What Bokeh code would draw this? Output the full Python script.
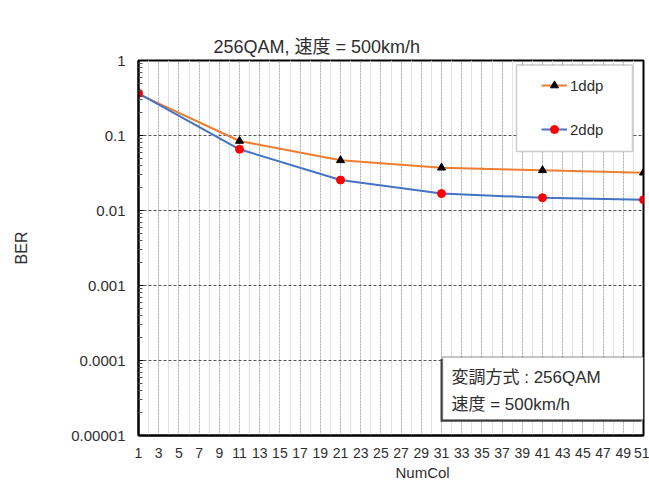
from bokeh.plotting import figure
from bokeh.models import (FixedTicker, CustomJSTickFormatter, Label, BoxAnnotation,
                          Legend, LegendItem, Title)
from bokeh.embed import file_html
from bokeh.resources import INLINE

# ---- data ----
num_col = [1, 11, 21, 31, 41, 51]
ber_1ddp = [0.357, 0.0845, 0.0467, 0.0372, 0.0344, 0.0319]
ber_2ddp = [0.365, 0.0655, 0.0255, 0.0168, 0.0148, 0.0139]
x_ticks = list(range(1, 52, 2))
y_ticks = [0.00001, 0.0001, 0.001, 0.01, 0.1, 1]
y_labels = ["0.00001", "0.0001", "0.001", "0.01", "0.1", "1"]
title_text = "256QAM, 速度 = 500km/h"
x_title = "NumCol"
y_title = "BER"
box_lines = ["変調方式 : 256QAM", "速度 = 500km/h"]

FONT = "Liberation Sans, Noto Sans CJK JP"
TXT = "#2e2e2e"

p = figure(frame_width=505, frame_height=375, y_axis_type="log",
           x_range=(1, 51), y_range=(1e-5, 1),
           output_backend="svg", toolbar_location=None,
           min_border_left=138, min_border_right=6, min_border_top=60,
           min_border_bottom=55)
p.background_fill_color = "white"
p.border_fill_color = "white"
p.outline_line_color = "black"
p.outline_line_width = 2

# title
p.title.text = title_text
p.title.align = "left"
p.title.offset = 75
p.title.text_font = FONT
p.title.text_font_size = "18px"
p.title.text_font_style = "normal"
p.title.text_color = TXT
p.title.standoff = 7

# axes
minor_y = [m * d for d in y_ticks[:-1] for m in range(2, 10)]
p.yaxis.ticker = FixedTicker(ticks=y_ticks, minor_ticks=minor_y)
p.yaxis.formatter = CustomJSTickFormatter(args=dict(vals=y_ticks, labs=y_labels), code="""
    for (let i = 0; i < vals.length; i++) {
        if (Math.abs(Math.log10(vals[i]) - Math.log10(tick)) < 1e-6) return labs[i];
    }
    return "";
""")
p.xaxis.ticker = FixedTicker(ticks=x_ticks, minor_ticks=[t + 1 for t in x_ticks[:-1]])

for ax in (p.xaxis, p.yaxis):
    ax.axis_line_color = "black"
    ax.axis_line_width = 2
    ax.major_label_text_font = FONT
    ax.major_label_text_color = TXT
    ax.axis_label_text_font = FONT
    ax.axis_label_text_color = TXT
    ax.axis_label_text_font_style = "normal"

p.xaxis.major_tick_in = 0
p.xaxis.major_tick_out = 0
p.xaxis.minor_tick_in = 0
p.xaxis.minor_tick_out = 0
p.xaxis.major_label_text_font_size = "14px"
p.xaxis.major_label_standoff = 12

p.yaxis.major_tick_in = 5
p.yaxis.major_tick_out = 0
p.yaxis.minor_tick_in = 4
p.yaxis.minor_tick_out = 0
p.yaxis.minor_tick_line_color = "#555555"
p.yaxis.major_label_text_font_size = "15px"
p.yaxis.major_label_standoff = 13
p.yaxis.axis_label = y_title
p.yaxis.axis_label_text_font_size = "16px"
p.yaxis.axis_label_standoff = 38

# x-axis title, placed like the original (right of frame centre)
p.add_layout(Title(text=x_title, align="left", offset=257, text_font=FONT,
                   text_font_size="15px", text_font_style="normal",
                   text_color=TXT, standoff=3), "below")

# grids
p.xgrid.grid_line_color = "#a8a8a8"
p.xgrid.grid_line_dash = "2 1"
p.xgrid.grid_line_width = 1
p.xgrid.minor_grid_line_color = "#e2e2e2"
p.xgrid.minor_grid_line_width = 1
p.ygrid.grid_line_color = "#555555"
p.ygrid.grid_line_dash = "3 2"
p.ygrid.grid_line_width = 1.2
p.ygrid.minor_grid_line_color = None

SCR = dict(left_units="screen", right_units="screen",
           top_units="screen", bottom_units="screen")

# series
l1 = p.line(num_col, ber_1ddp, line_color="#ED7D31", line_width=2)
s1 = p.scatter(num_col, ber_1ddp, marker="triangle", size=8,
               fill_color="black", line_color="black")
l2 = p.line(num_col, ber_2ddp, line_color="#4472C4", line_width=2)
s2 = p.scatter(num_col, ber_2ddp, marker="circle", size=8,
               fill_color="#FF0000", line_color="#FF0000")

# legend frame
p.add_layout(BoxAnnotation(left=378, right=494, bottom=284, top=370.5,
                           fill_color="white", fill_alpha=1,
                           line_color="#555555", line_width=1.5, **SCR))
legend = Legend(items=[LegendItem(label="1ddp", renderers=[l1, s1]),
                       LegendItem(label="2ddp", renderers=[l2, s2])],
                location=(391, 284), padding=12, spacing=24,
                glyph_width=26, glyph_height=20, label_height=20,
                label_standoff=3, label_text_font=FONT,
                label_text_font_size="15px", label_text_color=TXT,
                background_fill_alpha=0, border_line_alpha=0)
p.add_layout(legend)

# condition text box
p.add_layout(BoxAnnotation(left=302, right=503, bottom=13.8, top=76.5,
                           fill_color="#444444", fill_alpha=1, line_alpha=0, **SCR))
p.add_layout(BoxAnnotation(left=304, right=505, bottom=15.8, top=78.5,
                           fill_color="white", fill_alpha=1,
                           line_color="black", line_width=1.5, **SCR))
for i, t in enumerate(box_lines):
    p.add_layout(Label(x=313, y=58.5 - 27 * i, x_units="screen", y_units="screen",
                       text=t, text_font=FONT, text_font_size="17px",
                       text_color=TXT, text_baseline="middle", text_align="left"))

open("out.html", "w").write(file_html(p, INLINE))
